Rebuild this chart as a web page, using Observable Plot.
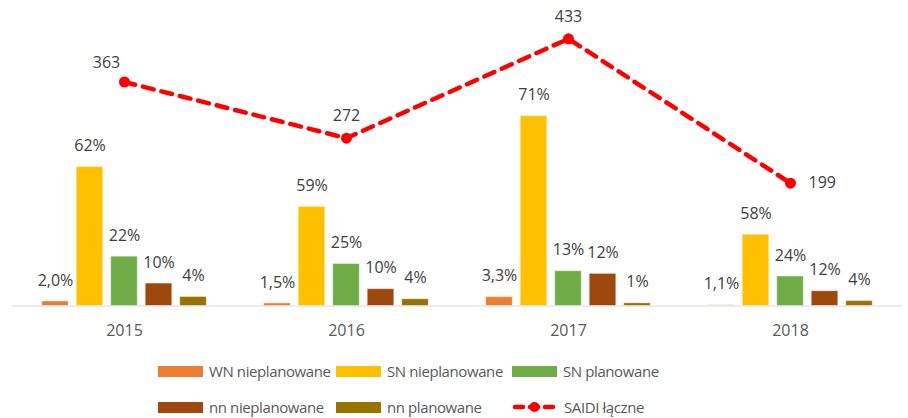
<!DOCTYPE html>
<html>
<head>
<meta charset="utf-8">
<script src="https://cdn.jsdelivr.net/npm/d3@7"></script>
<script src="https://cdn.jsdelivr.net/npm/@observablehq/plot@0.6"></script>
<style>
  html, body { margin: 0; padding: 0; background: #fff; }
  #wrap { position: relative; width: 908px; height: 418px; font-family: "Open Sans", sans-serif; }
  #legend { position: absolute; left: 0; top: 345px; width: 908px; height: 73px; }
  .item { position: absolute; display: flex; align-items: center; font-size: 15px; letter-spacing: -0.4px; color: #595959; white-space: nowrap; }
  .sw { width: 45px; height: 11px; margin-right: 6px; }
</style>
</head>
<body>
<div id="wrap"><div id="chart"></div><div id="legend"></div></div>
<script>
const years = ["2015", "2016", "2017", "2018"];
const saidi = [363, 272, 433, 199];
const series = ["WN nieplanowane", "SN nieplanowane", "SN planowane", "nn nieplanowane", "nn planowane"];
const colors = ["#ED7D31", "#FFC000", "#70AD47", "#9E480E", "#997300"];
const decimals = [1, 0, 0, 0, 0];
// shares (%) of SAIDI per category
const wnNiepl = [2.0, 1.5, 3.3, 1.1];
const snNiepl = [62, 59, 71, 58];
const snPl = [22, 25, 13, 24];
const nnNiepl = [10, 10, 12, 12];
const nnPl = [4, 4, 1, 4];
const shares = [wnNiepl, snNiepl, snPl, nnNiepl, nnPl];
const lineName = "SAIDI łączne";
const lineColor = "#FF0000";

const barRows = [];
series.forEach((s, i) => years.forEach((y, j) => {
  barRows.push({series: s, si: i, year: y, share: shares[i][j],
    minutes: shares[i][j] * saidi[j] / 100,
    label: shares[i][j].toFixed(decimals[i]).replace(".", ",") + "%"});
}));
const lineRows = years.map((y, j) => ({year: y, saidi: saidi[j]}));

const step = 34.5, bw = 27, band = (908 - 12 - 6) / years.length, inset = (band - bw) / 2;
const barFill = d => (d.year === "2018" && d.si === 0) ? "#FBE3D1" : colors[d.si];

const marks = [];
series.forEach((s, i) => {
  const rows = barRows.filter(d => d.si === i);
  marks.push(Plot.barY(rows, {x: "year", y: "minutes", fill: barFill, dx: (i - 2) * step,
    insetLeft: inset, insetRight: inset, stroke: "#fff", strokeOpacity: 0.35, strokeWidth: 1}));
  marks.push(Plot.text(rows, {x: "year", y: "minutes", text: "label", dx: (i - 2) * step, dy: -21,
    fill: "#404040", fontSize: 16}));
});
marks.push(Plot.ruleY([0], {stroke: "#D9D9D9", strokeWidth: 1.2}));
marks.push(Plot.line(lineRows, {x: "year", y: "saidi", stroke: lineColor, strokeWidth: 4.5,
  strokeDasharray: "11,8", strokeLinecap: "round"}));
marks.push(Plot.dot(lineRows, {x: "year", y: "saidi", fill: lineColor, r: 5.5}));
marks.push(Plot.text(lineRows, {filter: d => d.year === "2015", x: "year", y: "saidi", text: d => String(d.saidi), dx: -18, dy: -19, fill: "#404040", fontSize: 16}));
marks.push(Plot.text(lineRows, {filter: d => d.year === "2016" || d.year === "2017", x: "year", y: "saidi", text: d => String(d.saidi), dy: -22, fill: "#404040", fontSize: 16}));
marks.push(Plot.text(lineRows, {filter: d => d.year === "2018", x: "year", y: "saidi", text: d => String(d.saidi), dx: 18, textAnchor: "start", fill: "#404040", fontSize: 16}));
marks.push(Plot.axisX({tickSize: 0, tickPadding: 19, fontSize: 16, fill: "#595959", label: null}));

const chart = Plot.plot({
  width: 908, height: 345,
  marginLeft: 12, marginRight: 6, marginTop: 9.3, marginBottom: 39.5,
  style: {fontFamily: "Open Sans, sans-serif", fontSize: "16px", color: "#595959", background: "#fff"},
  x: {type: "band", domain: years, padding: 0},
  y: {domain: [0, 480], axis: null},
  marks
});
document.getElementById("chart").appendChild(chart);

// legend
const legend = document.getElementById("legend");
const lefts = [158, 336, 512];
const entries = series.map((s, i) => ({name: s, color: colors[i], type: "bar"}));
entries.push({name: lineName, color: lineColor, type: "line"});
entries.forEach((e, k) => {
  const row = Math.floor(k / 3), col = k % 3;
  const div = document.createElement("div");
  div.className = "item";
  div.style.left = lefts[col] + "px";
  div.style.top = (row === 0 ? 15 : 51) + "px";
  div.style.height = "22px";
  let sw;
  if (e.type === "bar") {
    sw = `<div class="sw" style="background:${e.color}"></div>`;
  } else {
    sw = `<svg width="45" height="14" style="margin-right:7px"><line x1="3" y1="7" x2="42" y2="7" stroke="${e.color}" stroke-width="4.5" stroke-dasharray="8,7" stroke-linecap="round"/><circle cx="22.5" cy="7" r="5" fill="${e.color}"/></svg>`;
  }
  div.innerHTML = sw + `<span>${e.name}</span>`;
  legend.appendChild(div);
});
</script>
</body>
</html>
